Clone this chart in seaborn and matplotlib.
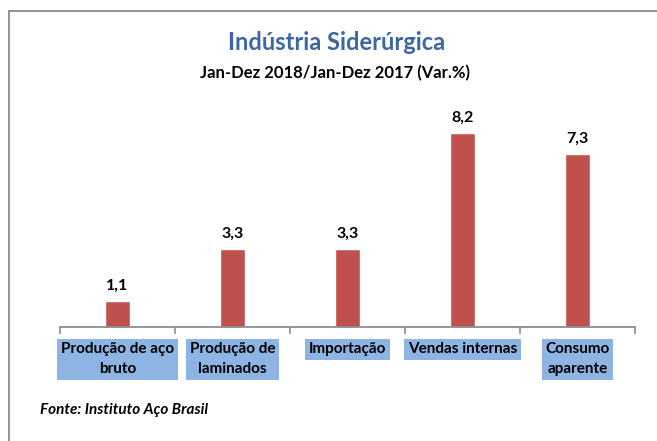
import matplotlib
matplotlib.use("Agg")
import matplotlib.pyplot as plt
from matplotlib.patches import Rectangle
import seaborn as sns
import pandas as pd

categories = ["Produção de aço\nbruto", "Produção de\nlaminados", "Importação",
              "Vendas internas", "Consumo\naparente"]
values = [1.1, 3.3, 3.3, 8.2, 7.3]
value_labels = ["1,1", "3,3", "3,3", "8,2", "7,3"]
title = "Indústria Siderúrgica"
subtitle = "Jan-Dez 2018/Jan-Dez 2017 (Var.%)"
source = "Fonte: Instituto Aço Brasil"

sns.set_theme(style="white")
plt.rcParams["font.family"] = ["Lato", "DejaVu Sans"]

df = pd.DataFrame({"cat": categories, "val": values})

fig = plt.figure(figsize=(6.57, 4.41), dpi=100)
ax = fig.add_axes([60 / 657, 1 - 327 / 441, 575 / 657, 227 / 441])
sns.barplot(data=df, x="cat", y="val", color="#C0504D", width=0.22,
            saturation=1, ax=ax)
ax.set_ylim(0, 227 / 23.66)
ax.set_xlim(-0.5, len(categories) - 0.5)
ax.set_xlabel("")
ax.set_ylabel("")
ax.set_yticks([])
for s in ["left", "top", "right"]:
    ax.spines[s].set_visible(False)
ax.spines["bottom"].set_color("#8c8c8c")
ax.spines["bottom"].set_linewidth(1.3)

ax.set_xticks([i - 0.5 for i in range(len(categories) + 1)], minor=True)
ax.tick_params(axis="x", which="minor", bottom=True, length=5, width=1.2,
               color="#8c8c8c", direction="out")
ax.tick_params(axis="x", which="major", length=0, pad=11)
for lab in ax.get_xticklabels():
    lab.set_fontweight("bold")
    lab.set_fontsize(11)
    lab.set_color("black")
    lab.set_linespacing(1.55)
    lab.set_bbox(dict(facecolor="#8DB4E2", edgecolor="none", pad=2.5))

for i, (v, t) in enumerate(zip(values, value_labels)):
    ax.annotate(t, (i, v), xytext=(0, 6), textcoords="offset points",
                ha="center", va="bottom", fontsize=11.5, fontweight="bold",
                color="black")

fig.text(337 / 657, 1 - 42 / 441, title, ha="center", va="center",
         fontsize=17, fontweight="bold", color="#3C67A3")
fig.text(335 / 657, 1 - 73 / 441, subtitle, ha="center", va="center",
         fontsize=12, fontweight="bold", color="black")
fig.text(40 / 657, 1 - 410 / 441, source, ha="left", va="center",
         fontsize=11, fontweight="bold", fontstyle="italic", color="black")

fig.patches.append(Rectangle((9 / 657, -0.1), 1.2, 1 - 11 / 441 + 0.1,
                             fill=False, edgecolor="#8c8c8c", linewidth=1.3,
                             transform=fig.transFigure, figure=fig))

fig.savefig("out.png", dpi=100)
